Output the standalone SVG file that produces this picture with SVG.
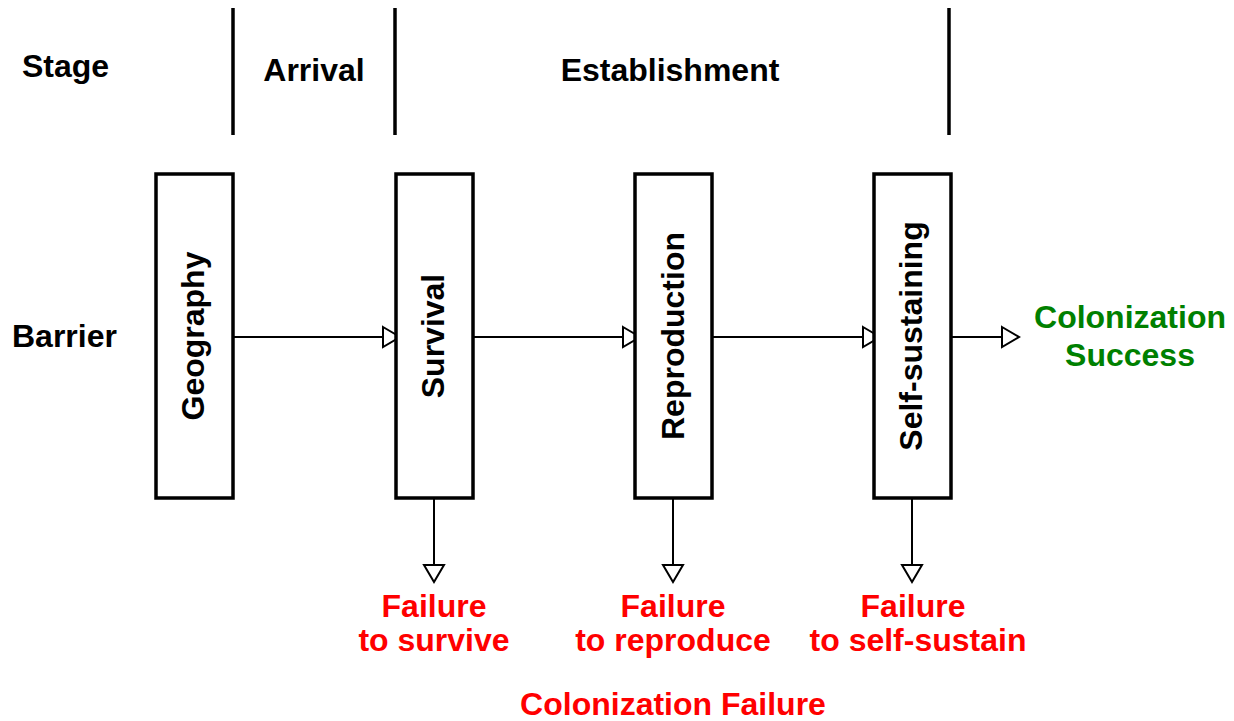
<svg xmlns="http://www.w3.org/2000/svg" width="1234" height="721" viewBox="0 0 1234 721">
<style>
.t{font-family:"Liberation Sans",Arial,sans-serif;font-weight:bold;font-size:32px;fill:#000}
.m{text-anchor:middle}
.red{fill:#ff0000}
.green{fill:#008000}
.box{fill:#fff;stroke:#000;stroke-width:3.5}
.sep{stroke:#000;stroke-width:3.5}
.c{stroke:#000;stroke-width:2;fill:none;marker-end:url(#tri)}
</style>
<defs>
<marker id="tri" markerUnits="userSpaceOnUse" viewBox="-2 -2 21 24" markerWidth="21" markerHeight="24" refX="17" refY="10" orient="auto">
<path d="M0,0 L17,10 L0,20 Z" fill="#fff" stroke="#000" stroke-width="2"/>
</marker>
</defs>
<g id="header">
<text class="t" x="22" y="77">Stage</text>
<text class="t m" x="314" y="81">Arrival</text>
<text class="t m" x="670" y="81">Establishment</text>
<text class="t" x="12" y="347">Barrier</text>
<line class="sep" x1="233" y1="8" x2="233" y2="135"/>
<line class="sep" x1="395" y1="8" x2="395" y2="135"/>
<line class="sep" x1="949" y1="8" x2="949" y2="135"/>
</g>
<g id="connectors">
<line class="c" x1="233" y1="337" x2="400" y2="337"/>
<line class="c" x1="473" y1="337" x2="640" y2="337"/>
<line class="c" x1="713" y1="337" x2="880" y2="337"/>
<line class="c" x1="951" y1="337" x2="1019" y2="337"/>
<line class="c" x1="434" y1="498" x2="434" y2="582"/>
<line class="c" x1="673" y1="498" x2="673" y2="582"/>
<line class="c" x1="912" y1="498" x2="912" y2="582"/>
</g>
<g id="geography">
<rect class="box" x="156" y="174" width="77" height="324"/>
<text class="t m" transform="translate(204,336) rotate(-90)">Geography</text>
</g>
<g id="survival">
<rect class="box" x="396" y="174" width="77" height="324"/>
<text class="t m" transform="translate(444,336) rotate(-90)">Survival</text>
</g>
<g id="reproduction">
<rect class="box" x="635" y="174" width="77" height="324"/>
<text class="t m" transform="translate(684,336) rotate(-90)">Reproduction</text>
</g>
<g id="selfsustaining">
<rect class="box" x="874" y="174" width="77" height="324"/>
<text class="t m" transform="translate(922,336) rotate(-90)">Self-sustaining</text>
</g>
<g id="success">
<text class="t m green" x="1130" y="328">Colonization</text>
<text class="t m green" x="1130" y="366">Success</text>
</g>
<g id="fail-survive">
<text class="t m red" x="434" y="617">Failure</text>
<text class="t m red" x="434" y="651">to survive</text>
</g>
<g id="fail-reproduce">
<text class="t m red" x="673" y="617">Failure</text>
<text class="t m red" x="673" y="651">to reproduce</text>
</g>
<g id="fail-selfsustain">
<text class="t m red" x="913" y="617">Failure</text>
<text class="t m red" x="918" y="651">to self-sustain</text>
</g>
<g id="colonization-failure">
<text class="t m red" x="673" y="715">Colonization Failure</text>
</g>
</svg>
